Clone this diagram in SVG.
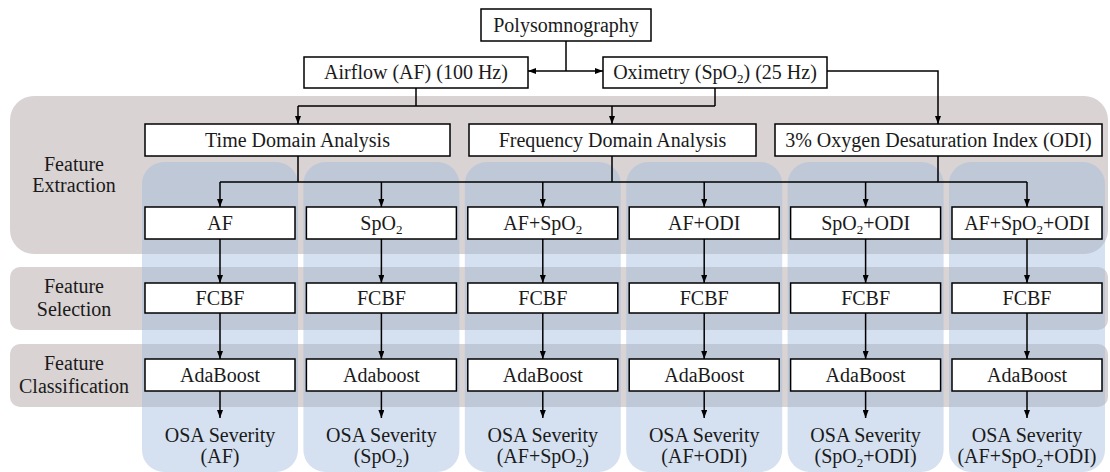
<svg xmlns="http://www.w3.org/2000/svg" width="1110" height="472" viewBox="0 0 1110 472" font-family="'Liberation Serif', 'Times New Roman', serif">
<defs>
<marker id="arr" viewBox="0 0 8 6" refX="8" refY="3" markerWidth="8" markerHeight="6" markerUnits="userSpaceOnUse" orient="auto-start-reverse">
<path d="M0,0 L8,3 L0,6 z" fill="#000"/>
</marker>
<style>
text{font-family:'Liberation Serif','Times New Roman',serif;font-size:20px;fill:#1a1a1a;text-anchor:middle}
.band{fill:#d9d3d3}
.col{fill:#9eb9dd;fill-opacity:0.43}
.box{fill:#fff;stroke:#000;stroke-width:1.5}
.c{fill:none;stroke:#000;stroke-width:1.5}
.a{fill:none;stroke:#000;stroke-width:1.5;marker-end:url(#arr)}
.sub{font-size:13px}
</style>
</defs>
<rect width="1110" height="472" fill="#fff"/>
<g id="bands">
<rect class="band" x="10" y="96" width="1098" height="158" rx="24"/>
<rect class="band" x="10" y="267" width="1098" height="63" rx="10"/>
<rect class="band" x="10" y="344" width="1098" height="63" rx="10"/>
<text x="74" y="171">Feature</text><text x="74" y="192">Extraction</text>
<text x="74" y="293">Feature</text><text x="74" y="316">Selection</text>
<text x="74" y="370">Feature</text><text x="74" y="393">Classification</text>
</g>
<g id="columns">
<rect class="col" x="142" y="162" width="156" height="310" rx="22"/>
<rect class="col" x="303.4" y="162" width="156" height="310" rx="22"/>
<rect class="col" x="464.8" y="162" width="156" height="310" rx="22"/>
<rect class="col" x="626.2" y="162" width="156" height="310" rx="22"/>
<rect class="col" x="787.6" y="162" width="156" height="310" rx="22"/>
<rect class="col" x="949" y="162" width="156" height="310" rx="22"/>
</g>
<g id="connectors">
<path class="c" d="M566,41 V71"/>
<path class="c" d="M566,71 H528" style="marker-end:url(#arr)"/>
<path class="c" d="M566,71 H603" style="marker-end:url(#arr)"/>
<path class="a" d="M827,71 H938 V124"/>
<path class="c" d="M416,88 V106 M715,88 V106 M298,106 H715"/>
<path class="a" d="M298,106 V124"/>
<path class="a" d="M612,106 V124"/>
<path class="c" d="M298,156 V182 M612,156 V182 M938,156 V182 M220,182 H1027"/>
<path class="a" d="M220,182 V207"/><path class="a" d="M381.4,182 V207"/><path class="a" d="M542.8,182 V207"/><path class="a" d="M704.2,182 V207"/><path class="a" d="M865.6,182 V207"/><path class="a" d="M1027,182 V207"/>
<path class="a" d="M220,239 V283"/><path class="a" d="M381.4,239 V283"/><path class="a" d="M542.8,239 V283"/><path class="a" d="M704.2,239 V283"/><path class="a" d="M865.6,239 V283"/><path class="a" d="M1027,239 V283"/>
<path class="a" d="M220,313 V359"/><path class="a" d="M381.4,313 V359"/><path class="a" d="M542.8,313 V359"/><path class="a" d="M704.2,313 V359"/><path class="a" d="M865.6,313 V359"/><path class="a" d="M1027,313 V359"/>
<path class="a" d="M220,391 V418"/><path class="a" d="M381.4,391 V418"/><path class="a" d="M542.8,391 V418"/><path class="a" d="M704.2,391 V418"/><path class="a" d="M865.6,391 V418"/><path class="a" d="M1027,391 V418"/>
</g>
<g id="polysomnography"><rect class="box" x="481" y="9" width="170" height="32"/><text x="566" y="32">Polysomnography</text></g>
<g id="airflow"><rect class="box" x="304" y="57" width="224" height="31"/><text x="416" y="79">Airflow (AF) (100 Hz)</text></g>
<g id="oximetry"><rect class="box" x="603" y="57" width="224" height="31"/><text x="715" y="79">Oximetry (SpO<tspan class="sub" dy="4">2</tspan><tspan dy="-4">) (25 Hz)</tspan></text></g>
<g id="time-domain"><rect class="box" x="145" y="124" width="305" height="32"/><text x="297.5" y="147">Time Domain Analysis</text></g>
<g id="freq-domain"><rect class="box" x="469" y="124" width="287" height="32"/><text x="612.5" y="147">Frequency Domain Analysis</text></g>
<g id="odi"><rect class="box" x="775" y="124" width="327" height="32"/><text x="938.5" y="147">3% Oxygen Desaturation Index (ODI)</text></g>
<g id="set-af"><rect class="box" x="145" y="207" width="150" height="32"/><text x="220" y="230">AF</text></g>
<g id="set-spo2"><rect class="box" x="306.4" y="207" width="150" height="32"/><text x="381.4" y="230">SpO<tspan class="sub" dy="4">2</tspan></text></g>
<g id="set-af-spo2"><rect class="box" x="467.8" y="207" width="150" height="32"/><text x="542.8" y="230">AF+SpO<tspan class="sub" dy="4">2</tspan></text></g>
<g id="set-af-odi"><rect class="box" x="629.2" y="207" width="150" height="32"/><text x="704.2" y="230">AF+ODI</text></g>
<g id="set-spo2-odi"><rect class="box" x="790.6" y="207" width="150" height="32"/><text x="865.6" y="230">SpO<tspan class="sub" dy="4">2</tspan><tspan dy="-4">+ODI</tspan></text></g>
<g id="set-all"><rect class="box" x="952" y="207" width="150" height="32"/><text x="1027" y="230">AF+SpO<tspan class="sub" dy="4">2</tspan><tspan dy="-4">+ODI</tspan></text></g>
<g id="fcbf-1"><rect class="box" x="145" y="283" width="150" height="30"/><text x="220" y="305">FCBF</text></g>
<g id="fcbf-2"><rect class="box" x="306.4" y="283" width="150" height="30"/><text x="381.4" y="305">FCBF</text></g>
<g id="fcbf-3"><rect class="box" x="467.8" y="283" width="150" height="30"/><text x="542.8" y="305">FCBF</text></g>
<g id="fcbf-4"><rect class="box" x="629.2" y="283" width="150" height="30"/><text x="704.2" y="305">FCBF</text></g>
<g id="fcbf-5"><rect class="box" x="790.6" y="283" width="150" height="30"/><text x="865.6" y="305">FCBF</text></g>
<g id="fcbf-6"><rect class="box" x="952" y="283" width="150" height="30"/><text x="1027" y="305">FCBF</text></g>
<g id="ada-1"><rect class="box" x="145" y="359" width="150" height="32"/><text x="220" y="382">AdaBoost</text></g>
<g id="ada-2"><rect class="box" x="306.4" y="359" width="150" height="32"/><text x="381.4" y="382">Adaboost</text></g>
<g id="ada-3"><rect class="box" x="467.8" y="359" width="150" height="32"/><text x="542.8" y="382">AdaBoost</text></g>
<g id="ada-4"><rect class="box" x="629.2" y="359" width="150" height="32"/><text x="704.2" y="382">AdaBoost</text></g>
<g id="ada-5"><rect class="box" x="790.6" y="359" width="150" height="32"/><text x="865.6" y="382">AdaBoost</text></g>
<g id="ada-6"><rect class="box" x="952" y="359" width="150" height="32"/><text x="1027" y="382">AdaBoost</text></g>
<g id="out-1"><text x="220" y="442">OSA Severity</text><text x="220" y="463">(AF)</text></g>
<g id="out-2"><text x="381.4" y="442">OSA Severity</text><text x="381.4" y="463">(SpO<tspan class="sub" dy="4">2</tspan><tspan dy="-4">)</tspan></text></g>
<g id="out-3"><text x="542.8" y="442">OSA Severity</text><text x="542.8" y="463">(AF+SpO<tspan class="sub" dy="4">2</tspan><tspan dy="-4">)</tspan></text></g>
<g id="out-4"><text x="704.2" y="442">OSA Severity</text><text x="704.2" y="463">(AF+ODI)</text></g>
<g id="out-5"><text x="865.6" y="442">OSA Severity</text><text x="865.6" y="463">(SpO<tspan class="sub" dy="4">2</tspan><tspan dy="-4">+ODI)</tspan></text></g>
<g id="out-6"><text x="1027" y="442">OSA Severity</text><text x="1027" y="463">(AF+SpO<tspan class="sub" dy="4">2</tspan><tspan dy="-4">+ODI)</tspan></text></g>
</svg>
